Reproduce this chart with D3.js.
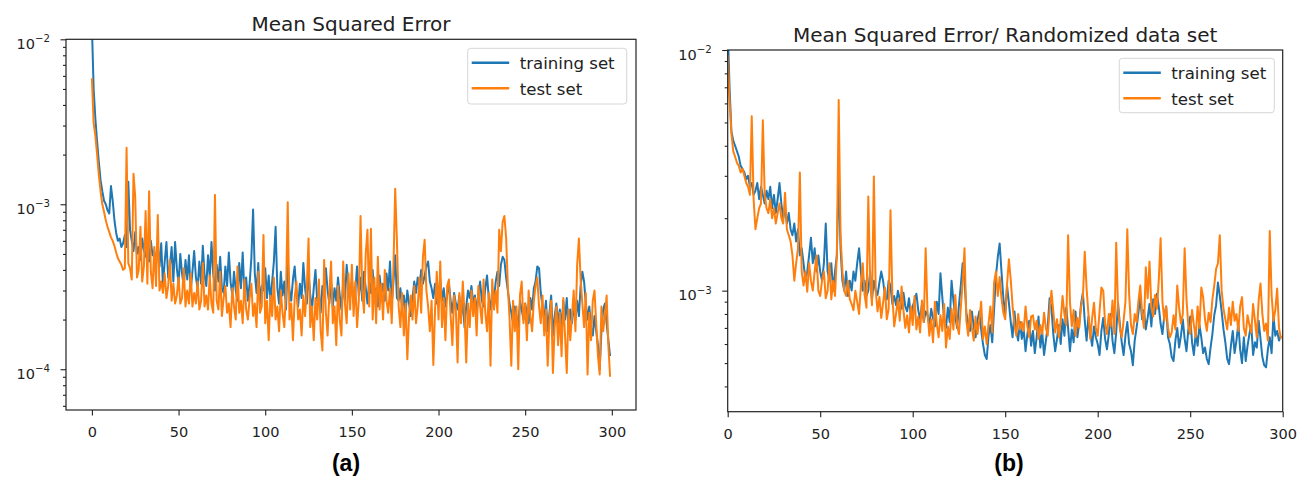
<!DOCTYPE html>
<html>
<head>
<meta charset="utf-8">
<script src="https://cdn.jsdelivr.net/npm/d3@7"></script>
<style>
  body { margin: 0; background: #fff; }
  svg { display: block; font-family: "DejaVu Sans", sans-serif; }
</style>
</head>
<body>
<svg id="chart" width="1298" height="477"></svg>
<script>
// mean squared error per epoch (index = epoch), values in units of 1e-4
const trainA = [
  120, 50, 33, 24, 18, 14, 12, 10.5, 10, 9.2,
  8.8, 12.9, 10.5, 8, 6.7, 6, 6.2, 5.5, 5.8, 6.5,
  5.5, 13.7, 7, 6, 5.2, 6.8, 5, 5.5, 4.6, 6.2,
  5.3, 4.8, 5.8, 4.5, 6, 4.9, 5.2, 4.4, 5.6, 4.2,
  5.8, 3.2, 4.5, 5.9, 3.6, 4.2, 5.5, 3.4, 5.9, 4.1,
  3.3, 5.0, 3.8, 3.2, 4.6, 3.5, 4.9, 3.0, 3.9, 5.2,
  3.6, 3.1, 4.5, 3.3, 5.6, 3.7, 3.2, 4.9, 3.6, 5.9,
  3.8, 3.0, 4.3, 3.4, 4.8, 3.1, 2.9, 4.2, 3.2, 5.1,
  3.4, 2.8, 3.9, 3.0, 2.6, 4.4, 3.1, 5.1, 2.9, 3.6,
  2.6, 3.3, 4.7, 9.3, 3.8, 2.9, 4.4, 2.5, 3.2, 3.0,
  4.1, 2.7, 3.7, 2.6, 3.4, 4.5, 7.3, 3.1, 2.5, 3.9,
  2.8, 3.4, 2.3, 4.6, 3.0, 2.6, 3.5, 4.2, 2.9, 2.4,
  3.3, 2.7, 4.4, 3.1, 2.5, 3.8, 2.8, 2.3, 3.1, 4.0,
  2.6, 2.9, 2.2, 3.2, 2.7, 4.1, 3.0, 2.5, 3.4, 2.4,
  3.1, 2.6, 3.6, 2.8, 2.3, 3.3, 2.6, 4.3, 3.2, 2.7,
  3.5, 2.5, 3.0, 4.2, 2.8, 3.6, 2.6, 3.9, 3.1, 2.5,
  3.4, 2.9, 4.0, 2.6, 3.1, 2.4, 3.7, 2.9, 3.3, 2.6,
  3.8, 3.0, 4.5, 2.5, 3.4, 4.9, 2.7, 2.6, 3.1, 2.3,
  2.8, 2.2, 3.0, 2.5, 2.1, 2.7, 3.4, 2.9, 3.6, 3.1,
  4.0, 3.3, 3.7, 4.2, 4.5, 3.4, 3.1, 2.7, 3.3, 2.5,
  2.9, 3.5, 2.6, 3.1, 2.4, 2.8, 3.3, 2.6, 2.2, 2.9,
  2.5, 2.3, 2.8, 2.1, 2.6, 1.8, 2.4, 3.0, 2.7, 3.2,
  2.5, 2.8, 2.2, 2.9, 3.4, 2.6, 2.4, 3.1, 3.7, 2.7,
  2.3, 3.0, 2.6, 3.4, 3.9, 3.2, 4.3, 4.8, 4.6, 3.6,
  3.0, 2.5, 2.2, 1.9, 2.4, 2.1, 1.8, 2.6, 2.3, 2.0,
  2.5, 2.2, 1.9, 2.7, 2.3, 3.1, 3.4, 4.2, 4.1, 2.9,
  2.4, 2.0, 2.6, 1.7, 2.2, 2.8, 1.6, 2.1, 2.5, 1.9,
  2.3, 1.8, 2.6, 2.0, 2.7, 1.7, 2.3, 1.9, 2.4, 2.0,
  2.6, 2.1, 3.2, 3.9, 3.4, 2.5, 2.0, 2.4, 1.8, 1.6,
  2.1, 1.7, 1.4, 1.0, 1.7, 2.3, 2.5, 1.9, 1.5, 1.2
];
const testA = [
  58, 31, 26, 20, 15, 12, 10, 9, 8, 7.3,
  6.8, 6.3, 6.0, 5.6, 5.1, 4.7, 4.5, 4.3, 4.0, 4.1,
  22, 4.4, 4.1, 3.5, 15.3, 11, 3.6, 4.0, 7.3, 3.4,
  4.2, 9.1, 3.3, 12.0, 3.9, 3.1, 5.5, 3.2, 8.6, 3.0,
  3.4, 2.9, 3.8, 2.7, 3.2, 4.6, 2.6, 3.3, 2.5, 2.8,
  3.6, 2.5, 2.7, 4.1, 2.4, 3.0, 2.5, 3.8, 2.4, 2.9,
  2.5, 3.4, 2.3, 2.6, 4.4, 2.4, 2.8, 2.3, 3.7, 2.5,
  2.2, 11.4, 2.6, 2.3, 3.9, 2.1, 2.7, 3.2, 2.2, 2.5,
  1.8, 3.1, 2.4, 2.0, 4.2, 2.2, 2.6, 1.9, 3.5, 2.3,
  2.0, 2.7, 3.3, 2.1, 2.5, 1.8, 3.9, 2.2, 2.4, 6.5,
  1.9, 2.6, 1.5, 2.8, 2.1, 3.6, 2.0, 2.4, 1.7, 3.0,
  2.2, 1.8, 2.9, 10.3, 2.0, 2.5, 1.5, 2.7, 3.4, 2.0,
  2.3, 1.6, 2.8, 2.1, 3.1, 6.2, 1.8, 2.4, 1.5, 2.7,
  2.0, 3.5, 1.7, 1.3, 4.6, 2.2, 1.6, 2.9, 4.5, 1.9,
  2.4, 1.4, 3.2, 2.0, 1.6, 4.5, 2.5, 1.9, 3.8, 2.3,
  4.3, 2.1, 3.4, 1.8, 2.6, 8.5, 3.0, 2.2, 5.0, 7.0,
  2.4, 7.1, 2.0, 3.6, 1.9, 4.8, 2.3, 3.3, 2.0, 4.0,
  2.6, 2.2, 3.1, 1.9, 4.2, 12.4, 6.0, 2.4, 1.8, 2.9,
  1.6, 2.5, 1.15, 2.1, 2.8, 2.0, 3.2, 1.9, 2.4, 3.6,
  2.2, 4.8, 6.1, 3.0, 2.4, 1.7, 2.6, 1.06, 2.3, 3.9,
  2.0, 4.5, 1.8, 2.7, 1.5, 3.2, 3.5, 2.1, 1.4, 2.8,
  2.3, 1.1, 2.9, 1.9, 3.4, 2.2, 1.1, 2.5, 1.8, 3.0,
  2.1, 2.7, 1.6, 3.2, 2.4, 1.9, 3.5, 2.2, 1.7, 2.9,
  1.05, 3.5, 2.3, 3.0, 2.2, 7.0, 5.2, 7.8, 8.5, 6.3,
  3.2, 2.0, 1.05, 2.6, 1.7, 2.4, 1.0, 2.8, 3.4, 1.9,
  2.5, 1.5, 3.0, 2.1, 1.7, 2.6, 3.2, 3.6, 2.4, 1.9,
  2.8, 1.6, 2.3, 1.05, 2.0, 2.6, 0.95, 1.8, 2.4, 1.4,
  2.2, 1.2, 2.7, 1.6, 0.95, 2.3, 1.5, 2.1, 3.0, 1.7,
  4.3, 6.2, 3.5, 2.5, 1.8, 2.9, 0.93, 2.2, 1.5, 2.6,
  3.0, 1.9, 1.2, 0.93, 2.4, 1.7, 2.1, 2.8, 1.4, 0.9
];
const trainB = [
  125, 70, 46, 42, 40, 38, 36, 33, 32, 31,
  29, 30, 27, 28, 25, 26, 28, 24, 27, 25,
  23, 26, 24, 27, 22, 25, 21, 24, 28, 23,
  20, 22, 19, 21, 18, 17, 19, 16, 18, 14,
  15, 13, 11, 12, 14, 16.6, 13, 15, 12, 14,
  12, 11, 13, 19, 12, 11, 13, 10, 12, 14,
  31, 15, 11, 10, 12, 9.5, 11, 10, 12, 11,
  13, 15, 12, 10, 11, 9.5, 10, 12, 9.2, 11,
  10, 9.6, 10.8, 12, 11, 9.5, 9.2, 11, 10.5, 8.8,
  9.5, 8.7, 10, 9.2, 8.4, 9.8, 8.6, 8.2, 9.3, 7.8,
  8.6, 9.1, 9.7, 8.3, 7.6, 8.8, 7.4, 8.2, 7.9, 7.2,
  8.4, 7.7, 7.1, 9.0, 8.0, 11.8, 9.4, 7.6, 7.0, 8.5,
  7.4, 11, 9.1, 7.8, 7.0, 8.7, 10.5, 13, 11.2, 8.1,
  7.3, 6.8, 8.2, 7.1, 6.4, 7.5, 8.2, 6.9, 6.0, 5.4,
  5.2, 6.5, 7.2, 6.1, 8.4, 11.5, 13.8, 15.7, 12, 9.3,
  8.0, 10.5, 8.9, 7.4, 6.4, 8.2, 6.8, 6.2, 7.4, 6.3,
  6.9, 5.6, 6.6, 7.5, 5.9, 6.8, 5.5, 6.4, 7.8, 5.8,
  6.7, 5.4, 6.2, 7.1, 9.3, 8.5, 6.6, 5.6, 6.3, 7.2,
  6.0, 7.6, 6.5, 8.5, 7.0, 5.6, 6.9, 6.1, 8.2, 6.4,
  7.3, 8.8, 9.8, 7.5, 6.2, 7.8, 6.6, 5.9, 7.1, 6.4,
  6.0, 5.4, 6.8, 7.7, 6.3, 5.7, 6.6, 8.0, 6.2, 5.5,
  6.7, 8.9, 7.2, 6.1, 5.4, 6.5, 7.4, 6.0, 5.6, 4.9,
  6.2, 7.0, 8.1, 9.4, 7.6, 8.3, 6.9, 7.7, 8.8, 7.1,
  9.2, 8.0, 9.7, 8.6, 7.3, 6.6, 7.9, 8.6, 6.4, 6.0,
  5.3, 5.1, 6.2, 7.0, 5.8, 6.5, 7.6, 6.3, 5.6, 6.9,
  7.8, 6.1, 5.4, 6.7, 5.9, 7.2, 6.4, 5.5, 5.8, 5.2,
  4.95, 5.8, 6.6, 7.9, 8.7, 10.8, 9.5, 8.2, 6.9, 6.1,
  5.2, 4.95, 5.9, 6.8, 5.5, 6.2, 7.3, 5.7, 5.0, 6.4,
  5.1, 5.9, 6.6, 7.2, 5.4, 6.1, 5.8, 7.5, 6.3, 5.3,
  4.9, 4.8, 5.7, 6.4, 5.5, 7.9, 6.5, 6.8, 6.2, 6.5
];
const testB = [
  95, 62, 45, 38, 36, 34, 33, 31, 32, 30,
  28, 27, 25, 53, 24, 18, 20, 22, 23, 51,
  25, 22, 21, 24, 20, 22, 19, 21, 23, 20,
  19, 25.5, 18, 17, 16, 14, 11, 13, 15, 31,
  12, 10.5, 12, 9.9, 13, 11, 10, 12, 14, 10,
  9.5, 11, 12, 9.3, 10, 13, 9.2, 11, 9.5, 14,
  62, 17, 12, 10, 9.5, 11, 9.2, 8.8, 8.3, 10,
  9, 8.0, 10.5, 13, 9.6, 8.5, 24.6, 11, 8.7, 29.8,
  10, 8.2, 9.4, 7.7, 8.9, 10.3, 7.6, 8.4, 21.6, 9.5,
  7.1, 8.0, 9.2, 7.5, 10.4, 8.3, 7.0, 7.9, 6.7, 8.6,
  7.2, 9.5, 6.9, 7.8, 6.7, 9.1, 7.4, 15, 8.2, 6.5,
  7.6, 6.1, 9.0, 7.3, 6.4, 7.9, 6.8, 8.8, 5.8, 7.1,
  6.3, 8.4, 6.9, 9.6, 7.2, 6.6, 8.5, 10.8, 15, 7.5,
  6.5, 8.3, 7.0, 6.2, 7.8, 6.6, 7.5, 9.0, 6.3, 7.1,
  6.0, 7.3, 8.6, 6.7, 10.8, 12.0, 9.5, 11.4, 9.3, 8.1,
  7.6, 10.6, 13.5, 11.1, 8.6, 7.2, 6.5, 8.0, 6.9, 7.4,
  6.8, 8.6, 7.1, 6.4, 7.8, 7.9, 6.9, 7.5, 6.3, 7.2,
  6.6, 8.1, 7.0, 6.5, 8.3, 10.0, 8.2, 6.7, 7.6, 6.4,
  7.5, 9.5, 8.0, 7.2, 17.0, 9.0, 7.1, 8.3, 6.5, 7.7,
  7.0, 8.6, 9.4, 14.5, 10.2, 8.0, 6.3, 7.7, 8.9, 7.0,
  6.5, 8.2, 10.3, 10.0, 7.3, 6.6, 8.0, 7.1, 9.1, 6.6,
  15.8, 8.4, 7.0, 6.4, 7.5, 9.0, 18, 9.6, 7.2, 6.6,
  8.0, 7.4, 9.0, 10.5, 8.1, 7.0, 12.5, 9.3, 13.2, 8.6,
  7.8, 9.6, 8.4, 11.0, 16.5, 9.0, 7.5, 8.6, 7.0, 6.4,
  6.7, 7.9, 6.9, 10.5, 8.5, 7.3, 8.0, 15, 9.2, 7.1,
  6.6, 8.3, 7.2, 6.4, 8.6, 7.0, 10.3, 9.4, 7.6, 6.8,
  8.1, 7.4, 9.2, 10.5, 12.3, 13.0, 17.0, 10.0, 8.4, 7.6,
  6.9, 8.5, 7.2, 9.0, 7.5, 8.0, 6.8, 8.6, 9.4, 7.0,
  6.5, 7.9, 7.2, 6.7, 8.8, 7.5, 6.4, 9.1, 10.7, 8.0,
  6.8, 7.3, 6.2, 17.7, 9.6, 7.5, 8.3, 10.2, 7.0, 6.3
];
const UNIT = 1e-4;

const seriesNames = ["training set", "test set"];
const titles = ["Mean Squared Error", "Mean Squared Error/ Randomized data set"];
const panelLabels = ["(a)", "(b)"];
const xTicks = [0, 50, 100, 150, 200, 250, 300];
const yTicksA = [1e-4, 1e-3, 1e-2];
const yTicksB = [1e-3, 1e-2];
const colors = ["#1f77b4", "#ff7f0e"];

const svg = d3.select("#chart");
svg.append("rect").attr("width", 1298).attr("height", 477).attr("fill", "#fff");

function drawPanel(p) {
  const x = d3.scaleLinear().domain(p.xDomain).range([p.left, p.right]);
  const y = d3.scaleLog().domain(p.yDomain).range([p.bottom, p.top]);
  const g = svg.append("g");

  g.append("clipPath").attr("id", "clip-" + p.id)
    .append("rect")
    .attr("x", p.left).attr("y", p.top)
    .attr("width", p.right - p.left).attr("height", p.bottom - p.top);

  const line = d3.line().x((d, i) => x(i)).y(d => y(d * UNIT));
  p.series.forEach((s, k) => {
    g.append("path")
      .datum(s)
      .attr("d", line)
      .attr("fill", "none")
      .attr("stroke", colors[k])
      .attr("stroke-width", 2)
      .attr("stroke-linejoin", "round")
      .attr("clip-path", `url(#clip-${p.id})`);
  });

  // x axis
  const xAxis = g.append("g")
    .attr("transform", `translate(0,${p.bottom})`)
    .call(d3.axisBottom(x).tickValues(xTicks).tickSize(5.5).tickSizeOuter(0));
  xAxis.selectAll("text").attr("y", 27).attr("dy", 0);

  // y axis, minor ticks first
  const isMajor = v => Math.abs(Math.log10(v) - Math.round(Math.log10(v))) < 1e-6;
  const minor = y.ticks().filter(v => !isMajor(v));
  g.append("g")
    .attr("transform", `translate(${p.left},0)`)
    .call(d3.axisLeft(y).tickValues(minor).tickSize(3).tickFormat(() => "").tickSizeOuter(0));

  const yAxis = g.append("g")
    .attr("transform", `translate(${p.left},0)`)
    .call(d3.axisLeft(y).tickValues(p.yTicks).tickSize(5.5).tickSizeOuter(0));
  yAxis.selectAll("text").each(function(v) {
    const t = d3.select(this).text(null).attr("x", -16).attr("y", p.labelDy).attr("dy", 0);
    t.append("tspan").text("10");
    t.append("tspan").attr("dy", -6.5).attr("font-size", 10.2)
      .text("\u2212" + Math.round(-Math.log10(v)));
  });

  g.selectAll(".domain").remove();
  g.selectAll(".tick line").attr("stroke", "#222").attr("stroke-width", 1.1);
  g.selectAll(".tick text")
    .attr("fill", "#222")
    .attr("font-family", "DejaVu Sans")
    .attr("font-size", 14.5);

  // frame
  g.append("rect")
    .attr("x", p.left).attr("y", p.top)
    .attr("width", p.right - p.left).attr("height", p.bottom - p.top)
    .attr("fill", "none").attr("stroke", "#222").attr("stroke-width", 1.2);

  // title
  g.append("text")
    .attr("x", (p.left + p.right) / 2).attr("y", p.top - 8)
    .attr("text-anchor", "middle")
    .attr("font-size", 20)
    .attr("fill", "#222")
    .text(p.title);

  // legend
  const lg = g.append("g").attr("transform", `translate(${p.legend.x},${p.legend.y})`);
  lg.append("rect")
    .attr("width", p.legend.w).attr("height", p.legend.h)
    .attr("rx", 3)
    .attr("fill", "#fff").attr("fill-opacity", 0.8)
    .attr("stroke", "#d6d6d6");
  seriesNames.forEach((name, k) => {
    const ry = 14.4 + k * 25.6;
    lg.append("line")
      .attr("x1", 4).attr("x2", 41.5)
      .attr("y1", ry).attr("y2", ry)
      .attr("stroke", colors[k]).attr("stroke-width", 2.5);
    lg.append("text")
      .attr("x", 52).attr("y", ry + 6.6)
      .attr("font-size", 16.6)
      .attr("fill", "#222")
      .text(name);
  });

  // panel letter
  svg.append("text")
    .attr("x", p.letterX).attr("y", 471)
    .attr("text-anchor", "middle")
    .attr("font-family", "Liberation Sans, Arial, sans-serif")
    .attr("font-weight", "bold")
    .attr("font-size", 23)
    .attr("fill", "#000")
    .text(p.letter);
}

drawPanel({
  id: "a",
  left: 66, right: 636, top: 39.3, bottom: 410,
  xDomain: [-14.95, 313.95],
  yDomain: [5.66e-5, 1e-2],
  yTicks: yTicksA,
  labelDy: 9,
  series: [trainA, testA],
  title: titles[0],
  letter: panelLabels[0], letterX: 346,
  legend: { x: 467.7, y: 48.3, w: 159, h: 55.7 }
});

drawPanel({
  id: "b",
  left: 727.7, right: 1282.7, top: 50, bottom: 411.7,
  xDomain: [0, 300],
  yDomain: [3.14e-4, 1e-2],
  yTicks: yTicksB,
  labelDy: 9,
  series: [trainB, testB],
  title: titles[1],
  letter: panelLabels[1], letterX: 1009,
  legend: { x: 1119.3, y: 58.3, w: 155, h: 54.4 }
});
</script>
</body>
</html>
